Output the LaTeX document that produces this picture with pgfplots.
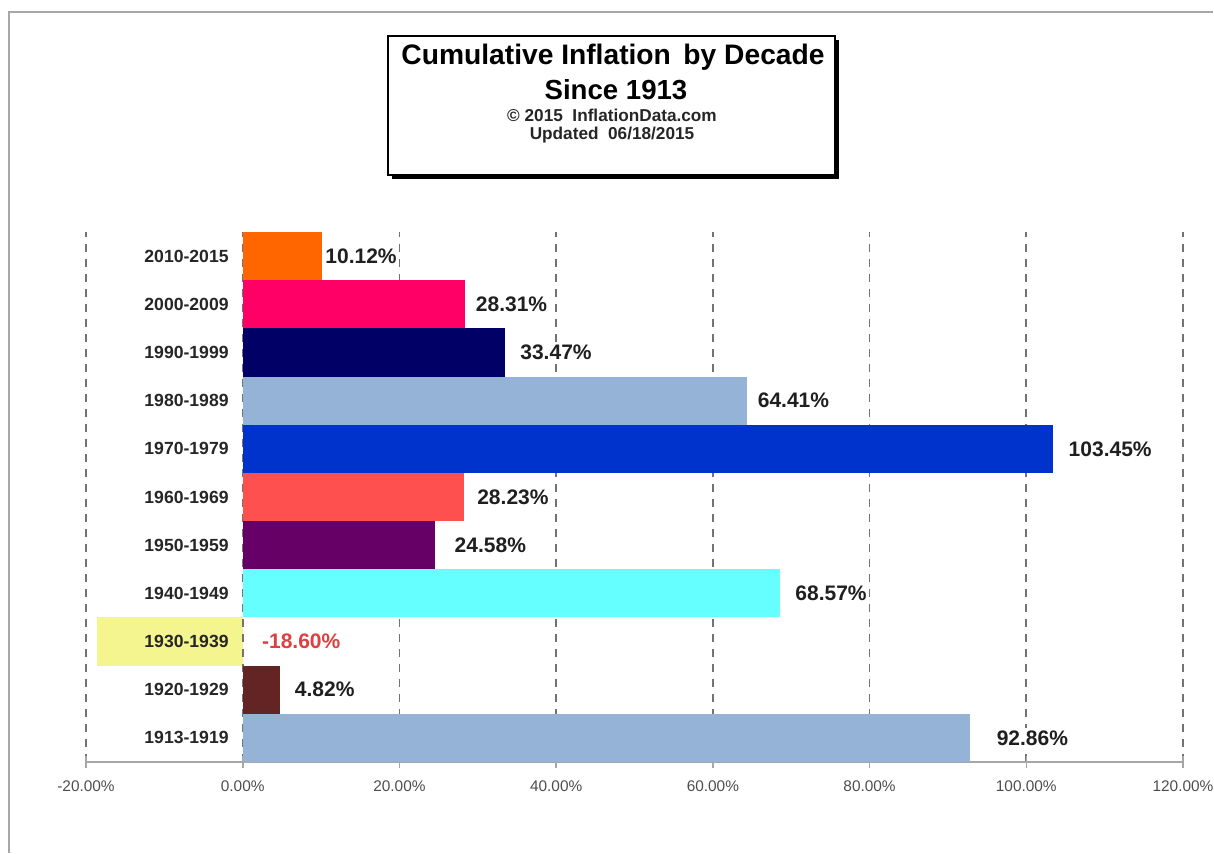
\documentclass[border=0pt]{standalone}
\usepackage{fontspec}
\setmainfont{Liberation Sans}
\usepackage{pgfplots}
\pgfplotsset{compat=1.18}
\definecolor{cOrange}{HTML}{FF6600}
\definecolor{cPink}{HTML}{FF0066}
\definecolor{cNavy}{HTML}{000066}
\definecolor{cSteel}{HTML}{95B3D7}
\definecolor{cBlue}{HTML}{0033CC}
\definecolor{cSalmon}{HTML}{FF5050}
\definecolor{cPurple}{HTML}{660066}
\definecolor{cCyan}{HTML}{66FFFF}
\definecolor{cYellow}{HTML}{F5F590}
\definecolor{cBrown}{HTML}{632523}
\definecolor{cRed}{HTML}{DD4040}
\definecolor{cFrame}{HTML}{A6A6A6}
\definecolor{cGrid}{HTML}{737373}
\definecolor{cTick}{HTML}{4D4D4D}
\pgfplotsset{
  lab/.style={nodes near coords={\pgfmathprintnumber[fixed,fixed zerofill,precision=2]{\pgfplotspointmeta}\%},
  every node near coord/.append style={xshift=#1}}}
\begin{document}
\begin{tikzpicture}
\draw[color=cFrame, line width=0.7pt] (4.5pt,0.4pt) -- (4.5pt,421pt) -- (606.6pt,421pt);
% title box
\fill[black] (196pt,337.5pt) rectangle (419.5pt,407pt);
\draw[line width=1pt, fill=white] (194pt,339.5pt) rectangle (417.5pt,409pt);
\node[anchor=base, inner sep=0pt, font=\bfseries\fontsize{14.1}{16}\selectfont] at (306.5pt,394.5pt) {Cumulative Inflation\, by Decade};
\node[anchor=base, inner sep=0pt, font=\bfseries\fontsize{13.8}{16}\selectfont] at (308pt,377pt) {Since 1913};
\node[anchor=base, inner sep=0pt, font=\bfseries\fontsize{8.6}{10}\selectfont, text=black!85] at (306pt,366pt) {\textcopyright\ 2015\ \ InflationData.com};
\node[anchor=base, inner sep=0pt, font=\bfseries\fontsize{8.6}{10}\selectfont, text=black!85] at (306pt,357pt) {Updated\ \ 06/18/2015};
\begin{axis}[
  set layers,
  at={(43pt,46pt)}, anchor=south west,
  scale only axis, width=548.5pt, height=265pt,
  xbar, bar shift=0pt, bar width=1,
  xmin=-20, xmax=120, ymin=-0.5, ymax=10.5,
  clip=false,
  point meta=x,
  /pgf/number format/assume math mode=true,
  axis x line=bottom, axis y line=left,
  x axis line style={-, draw=cFrame, line width=0.8pt},
  y axis line style={draw=none},
  xtick={-20,0,20,40,60,80,100,120},
  xticklabels={-20.00\%,0.00\%,20.00\%,40.00\%,60.00\%,80.00\%,100.00\%,120.00\%},
  xticklabel style={font=\fontsize{7.7}{9}\selectfont, text=cTick, yshift=-3pt},
  xtick style={draw=cFrame, line width=0.8pt},
  tick align=center, major tick length=6pt,
  ytick={0,...,10},
  yticklabels={1913-1919,1920-1929,1930-1939,1940-1949,1950-1959,1960-1969,1970-1979,1980-1989,1990-1999,2000-2009,2010-2015},
  ytick style={draw=none},
  yticklabel style={anchor=east, inner sep=0pt, xshift=74.5pt, font=\bfseries\fontsize{8.8}{10}\selectfont, text=black!85},
  xmajorgrids,
  major grid style={draw=cGrid, line width=0.9pt, dash pattern=on 4pt off 3.5pt},
  every node near coord/.append style={anchor=west, inner sep=1pt, fill=white, text=black!88, font=\bfseries\fontsize{10.5}{12}\selectfont},
]
\addplot[fill=cSteel, draw=none, lab=12pt] coordinates {(92.86,0)};
\addplot[fill=cBrown, draw=none, lab=6pt] coordinates {(4.82,1)};
\addplot[fill=cYellow, draw=none, on layer=axis background] coordinates {(-18.60,2)};
\addplot[fill=cCyan, draw=none, lab=6.5pt] coordinates {(68.57,3)};
\addplot[fill=cPurple, draw=none, lab=8.5pt] coordinates {(24.58,4)};
\addplot[fill=cSalmon, draw=none, lab=5.5pt] coordinates {(28.23,5)};
\addplot[fill=cBlue, draw=none, lab=6.5pt] coordinates {(103.45,6)};
\addplot[fill=cSteel, draw=none, lab=4pt] coordinates {(64.41,7)};
\addplot[fill=cNavy, draw=none, lab=6.5pt] coordinates {(33.47,8)};
\addplot[fill=cPink, draw=none, lab=4.5pt] coordinates {(28.31,9)};
\addplot[fill=cOrange, draw=none, lab=0.5pt] coordinates {(10.12,10)};
\node[anchor=west, inner sep=1pt, xshift=8.5pt, text=cRed, font=\bfseries\fontsize{10.5}{12}\selectfont] at (axis cs:0,2) {-18.60\%};
\end{axis}
\pgfresetboundingbox
\useasboundingbox (0,0) rectangle (607pt,427pt);
\end{tikzpicture}
\end{document}
